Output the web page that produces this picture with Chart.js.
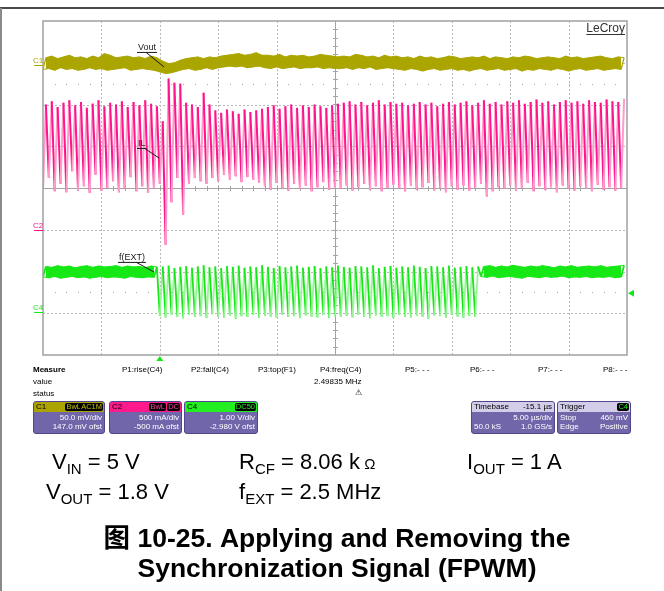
<!DOCTYPE html>
<html><head><meta charset="utf-8">
<script src="https://cdn.jsdelivr.net/npm/chart.js@4.4.1/dist/chart.umd.min.js"></script>
<style>
html,body{margin:0;padding:0;background:#fff;width:664px;height:591px;overflow:hidden;font-family:"Liberation Sans",Arial,sans-serif;}
#wrap{position:relative;width:664px;height:591px;}
#scope{position:absolute;left:0;top:0;}
.t{position:absolute;white-space:nowrap;font-size:8px;line-height:8px;color:#000;}
.box{position:absolute;top:401px;height:31px;border:1px solid #51468c;border-radius:3px;background:#7266ab;overflow:hidden;font-size:8px;line-height:8px;}
.hd{height:10px;position:relative;color:#000;}
.hd .l{position:absolute;left:2px;top:1px;}
.hd .bg{position:absolute;top:1px;height:8px;background:#000;border-radius:2px;padding:0 1px;font-size:7.5px;line-height:8px;}
.bd{position:relative;height:21px;color:#fff;}
.bd .r{position:absolute;right:2px;}
.bd .l{position:absolute;left:2px;}
.cap{position:absolute;white-space:nowrap;font-size:22px;line-height:22px;color:#000;}
.cap .s{font-size:15px;position:relative;top:5px;}
.ttl{position:absolute;left:5px;width:664px;text-align:center;font-weight:bold;font-size:26.5px;line-height:26px;color:#000;font-family:"Liberation Sans","Noto Sans CJK SC",Arial,sans-serif;}
#frameTop{position:absolute;left:0;top:7px;width:664px;height:2px;background:#4a4a4a;}
#frameLeft{position:absolute;left:0;top:8px;width:2px;height:583px;background:#8a8a8a;}
</style></head>
<body><div id="wrap">
<canvas id="scope" width="664" height="591"></canvas>
<div id="frameTop"></div><div id="frameLeft"></div>

<div class="t" style="left:33px;top:366px;font-weight:bold">Measure</div>
<div class="t" style="left:122px;top:366px">P1:rise(C4)</div>
<div class="t" style="left:191px;top:366px">P2:fall(C4)</div>
<div class="t" style="left:258px;top:366px">P3:top(F1)</div>
<div class="t" style="left:320px;top:366px">P4:freq(C4)</div>
<div class="t" style="left:405px;top:366px">P5:- - -</div>
<div class="t" style="left:470px;top:366px">P6:- - -</div>
<div class="t" style="left:538px;top:366px">P7:- - -</div>
<div class="t" style="left:603px;top:366px">P8:- - -</div>
<div class="t" style="left:33px;top:378px">value</div>
<div class="t" style="left:314px;top:378px">2.49835 MHz</div>
<div class="t" style="left:33px;top:390px">status</div>
<div class="t" style="left:355px;top:389px">⚠</div>

<div class="box" style="left:33px;width:70px">
 <div class="hd" style="background:#aaa300"><span class="l">C1</span><span class="bg" style="right:22px;color:#c8c000">BwL</span><span class="bg" style="right:1px;color:#c8c000">AC1M</span></div>
 <div class="bd"><span class="r" style="top:2px">50.0 mV/div</span><span class="r" style="top:11px">147.0 mV ofst</span></div>
</div>
<div class="box" style="left:109px;width:71px">
 <div class="hd" style="background:#ff1a8c"><span class="l">C2</span><span class="bg" style="right:15px;color:#ff3fa0">BwL</span><span class="bg" style="right:1px;color:#ff3fa0">DC</span></div>
 <div class="bd"><span class="r" style="top:2px">500 mA/div</span><span class="r" style="top:11px">-500 mA ofst</span></div>
</div>
<div class="box" style="left:184px;width:72px">
 <div class="hd" style="background:#22ee22"><span class="l">C4</span><span class="bg" style="right:1px;color:#22ee22">DC50</span></div>
 <div class="bd"><span class="r" style="top:2px">1.00 V/div</span><span class="r" style="top:11px">-2.980 V ofst</span></div>
</div>
<div class="box" style="left:471px;width:82px">
 <div class="hd" style="background:#d3cde9"><span class="l">Timebase</span><span class="l" style="left:auto;right:2px">-15.1 µs</span></div>
 <div class="bd"><span class="r" style="top:2px">5.00 µs/div</span><span class="l" style="top:11px">50.0 kS</span><span class="r" style="top:11px">1.0 GS/s</span></div>
</div>
<div class="box" style="left:557px;width:72px">
 <div class="hd" style="background:#d3cde9"><span class="l">Trigger</span><span class="bg" style="right:1px;color:#22ee22">C4</span></div>
 <div class="bd"><span class="l" style="top:2px">Stop</span><span class="r" style="top:2px">460 mV</span><span class="l" style="top:11px">Edge</span><span class="r" style="top:11px">Positive</span></div>
</div>

<div class="cap" style="left:52px;top:451px">V<span class="s">IN</span> = 5 V</div>
<div class="cap" style="left:239px;top:451px">R<span class="s">CF</span> = 8.06 k&thinsp;<span style="font-size:15px">Ω</span></div>
<div class="cap" style="left:467px;top:451px">I<span class="s">OUT</span> = 1 A</div>
<div class="cap" style="left:46px;top:481px">V<span class="s">OUT</span> = 1.8 V</div>
<div class="cap" style="left:239px;top:481px">f<span class="s">EXT</span> = 2.5 MHz</div>
<div class="ttl" style="top:525px">图 10-25. Applying and Removing the</div>
<div class="ttl" style="top:555px">Synchronization Signal (FPWM)</div>
</div>
<script>
// ---- time axis (µs): timebase 5 µs/div, 10 divisions, trigger at 2nd division ----
const timeStartUs = -10;
const timeEndUs = 40;
const displayCycleUs = 0.5; // one displayed low/high pair per 0.5 µs

// ---- channel settings ----
const c1ScaleMvPerDiv = 50,  c1OffsetMv = 147;
const c2ScaleAPerDiv = 0.5,  c2OffsetA = -0.5;
const c4ScaleVPerDiv = 1.0,  c4OffsetV = -2.98;
const triggerLevelV = 0.46;

// ---- C1: Vout ripple (mV, AC coupled), upper / lower excursions per display cycle ----
const voutHigh_mV = [9,11,8,10,12,9,10,8,11,9, 14,12,9,10,11,9,10,8,11,9,
  5,2,3,6,8,9,10,8,10,9, 11,12,13,14,12,13,15,12,12,11,
  13,10,12,11,12,10,11,13,12,11, 10,11,10,13,12,10,11,9,12,10,
  11,9,10,8,11,9,10,8,9,11, 10,8,9,10,9,11,8,10,9,8,
  10,9,11,10,8,9,10,9,8,11, 9,10,8,9,10,11,9,8,10,9];
const voutLow_mV = [-5,-4,-6,-3,-5,-4,-6,-5,-3,-5, -4,-6,-5,-4,-3,-6,-5,-4,-5,-6,
  -8,-10,-9,-7,-5,-4,-6,-5,-3,-5, -3,-2,-1,-2,-1,-3,-2,-1,-3,-4,
  -2,-4,-3,-2,-4,-3,-3,-2,-4,-3, -4,-4,-3,-5,-3,-4,-2,-5,-4,-3,
  -4,-5,-6,-4,-5,-7,-5,-4,-6,-5, -4,-6,-5,-7,-5,-4,-6,-5,-4,-6,
  -5,-4,-7,-5,-6,-4,-5,-6,-4,-5, -7,-5,-4,-6,-5,-4,-6,-5,-4,-5];

// ---- C2: inductor current IL (A), peak / valley per display cycle ----
const iLPeak_A = [1.50,1.54,1.47,1.52,1.55,1.49,1.53,1.46,1.51,1.55,
  1.48,1.52,1.50,1.54,1.47,1.53,1.49,1.55,1.51,1.48,
  1.30,1.81,1.76,1.75,1.52,1.50,1.47,1.64,1.50,1.43,
  1.40,1.44,1.42,1.39,1.44,1.41,1.43,1.45,1.47,1.49,
  1.45,1.48,1.50,1.46,1.49,1.47,1.50,1.48,1.46,1.49,
  1.51,1.52,1.54,1.50,1.53,1.49,1.52,1.55,1.50,1.53,
  1.51,1.52,1.49,1.51,1.53,1.50,1.52,1.48,1.51,1.53,
  1.50,1.52,1.54,1.49,1.52,1.55,1.51,1.53,1.50,1.54,
  1.52,1.55,1.51,1.53,1.56,1.52,1.54,1.50,1.53,1.55,
  1.52,1.54,1.51,1.55,1.53,1.52,1.56,1.54,1.53,1.57];
const iLValley_A = [0.48,0.62,0.46,0.55,0.45,0.70,0.47,0.52,0.44,0.66,
  0.47,0.50,0.58,0.45,0.49,0.63,0.46,0.52,0.44,0.50,
  0.55,-0.18,0.33,0.62,0.18,0.55,0.62,0.58,0.55,0.62,
  0.58,0.66,0.60,0.64,0.57,0.63,0.60,0.56,0.52,0.48,
  0.56,0.50,0.47,0.55,0.49,0.53,0.46,0.51,0.57,0.48,
  0.50,0.49,0.53,0.47,0.51,0.55,0.48,0.52,0.46,0.50,
  0.54,0.50,0.46,0.53,0.48,0.51,0.56,0.47,0.50,0.45,
  0.52,0.48,0.53,0.47,0.50,0.55,0.40,0.46,0.51,0.49,
  0.53,0.47,0.50,0.56,0.46,0.52,0.48,0.51,0.45,0.53,
  0.49,0.47,0.52,0.50,0.46,0.54,0.48,0.51,0.47,0.50];

// ---- C4: f(EXT) sync input (V), high / low per display cycle ----
const fextHigh_V = [1.10,1.08,1.12,1.09,1.11,1.07,1.10,1.12,1.08,1.11,
  1.09,1.10,1.12,1.08,1.11,1.09,1.10,1.07,1.11,1.09,
  1.10,1.12,1.06,1.09,1.11,1.07,1.10,1.13,1.08,1.10,
  1.06,1.11,1.09,1.12,1.07,1.10,1.08,1.13,1.09,1.06,
  1.11,1.08,1.10,1.12,1.07,1.09,1.11,1.06,1.10,1.08,
  1.12,1.09,1.07,1.11,1.10,1.08,1.13,1.06,1.09,1.11,
  1.07,1.10,1.08,1.12,1.09,1.06,1.11,1.10,1.08,1.12,
  1.07,1.09,1.11,1.08,1.10,1.10,1.12,1.08,1.11,1.09,
  1.13,1.10,1.08,1.11,1.09,1.12,1.10,1.07,1.11,1.09,
  1.12,1.08,1.10,1.11,1.09,1.12,1.08,1.10,1.11,1.13];
const fextLow_V = [0.85,0.83,0.86,0.82,0.84,0.86,0.83,0.85,0.82,0.84,
  0.86,0.83,0.85,0.84,0.82,0.86,0.84,0.83,0.85,0.84,
  -0.08,-0.12,-0.05,-0.10,-0.14,-0.06,-0.11,-0.09,-0.13,-0.04,
  -0.10,-0.12,-0.07,-0.15,-0.09,-0.11,-0.06,-0.13,-0.08,-0.10,
  -0.12,-0.05,-0.11,-0.09,-0.14,-0.07,-0.10,-0.12,-0.06,-0.13,
  -0.09,-0.11,-0.08,-0.12,-0.05,-0.10,-0.14,-0.07,-0.11,-0.09,
  -0.13,-0.06,-0.10,-0.12,-0.08,-0.11,-0.15,-0.07,-0.09,-0.12,
  -0.06,-0.10,-0.13,-0.08,-0.11,0.86,0.84,0.87,0.83,0.85,
  0.86,0.84,0.82,0.86,0.85,0.83,0.86,0.84,0.85,0.87,
  0.83,0.85,0.84,0.86,0.83,0.85,0.84,0.86,0.83,0.85];

// ---- annotation anchors (time µs, channel value) ----
const voutTag = {t: 0.36, v: -2};
const iLTag = {t: -0.07, v: 0.86};
const fextTag = {t: -0.5, v: 0.97};

// ---- conversion: channel units -> screen divisions ----
const c1Div = v => (v + c1OffsetMv) / c1ScaleMvPerDiv;
const c2Div = v => (v + c2OffsetA) / c2ScaleAPerDiv;
const c4Div = v => (v + c4OffsetV) / c4ScaleVPerDiv;

function buildTrace(lows, highs, toDiv) {
  const pts = [];
  for (let i = 0; i < lows.length; i++) {
    const t0 = timeStartUs + i * displayCycleUs;
    pts.push({x: t0, y: toDiv(lows[i])});
    pts.push({x: t0 + displayCycleUs / 2, y: toDiv(highs[i])});
  }
  return pts;
}
// envelope of the noise band (null where the trace is switching)
function buildEdge(vals, keep, toDiv, shift) {
  return vals.map((v, i) => ({x: timeStartUs + i * displayCycleUs + shift, y: keep(i) ? toDiv(v) : null}));
}

const YELLOW = '#aba500', PINK = '#ff148c', PINK_L = '#ff9ccb', GREEN = '#16e816', GREEN_L = '#98f598';
const fextIdle = i => fextLow_V[i] > 0.5;
const always = () => true;

const scopePlugin = {
  id: 'scope',
  beforeDatasetsDraw(chart) {
    const {ctx, chartArea: a, scales: {x, y}} = chart;
    ctx.save();
    ctx.lineWidth = 1;
    ctx.strokeStyle = '#b9b9b9';
    ctx.setLineDash([2, 2]);
    for (let d = 1; d < 10; d++) {
      if (d === 5) continue;
      const px = Math.round(x.getPixelForValue(timeStartUs + d * 5)) + 0.5;
      ctx.beginPath(); ctx.moveTo(px, a.top); ctx.lineTo(px, a.bottom); ctx.stroke();
    }
    for (let d = -3; d <= 3; d++) {
      if (d === 0) continue;
      const py = Math.round(y.getPixelForValue(d)) + 0.5;
      ctx.beginPath(); ctx.moveTo(a.left, py); ctx.lineTo(a.right, py); ctx.stroke();
    }
    ctx.setLineDash([]);
    ctx.fillStyle = '#a8a8a8';
    for (const d of [2.5, -2.5]) {
      const py = Math.round(y.getPixelForValue(d));
      for (let t = timeStartUs + 1; t < timeEndUs; t += 1) {
        ctx.fillRect(Math.round(x.getPixelForValue(t)), py, 1, 1);
      }
    }
    ctx.strokeStyle = '#a4a4a4';
    const cx = Math.round(x.getPixelForValue(15)) + 0.5;
    const cy = Math.round(y.getPixelForValue(0)) + 0.5;
    ctx.beginPath(); ctx.moveTo(cx, a.top); ctx.lineTo(cx, a.bottom); ctx.stroke();
    ctx.beginPath(); ctx.moveTo(a.left, cy); ctx.lineTo(a.right, cy); ctx.stroke();
    ctx.beginPath();
    for (let t = timeStartUs + 1; t < timeEndUs; t += 1) {
      const px = Math.round(x.getPixelForValue(t)) + 0.5;
      ctx.moveTo(px, cy - 2.5); ctx.lineTo(px, cy + 2.5);
    }
    for (let d = -3.8; d < 4; d += 0.2) {
      const py = Math.round(y.getPixelForValue(d)) + 0.5;
      ctx.moveTo(cx - 2.5, py); ctx.lineTo(cx + 2.5, py);
    }
    ctx.stroke();
    ctx.restore();
  },
  afterDatasetsDraw(chart) {
    const {ctx, chartArea: a, scales: {x, y}} = chart;
    ctx.save();
    ctx.strokeStyle = '#a0a0a0'; ctx.lineWidth = 1.5;
    ctx.strokeRect(a.left, a.top, a.right - a.left, a.bottom - a.top);
    ctx.font = '8px "Liberation Sans", Arial';
    ctx.lineWidth = 1;
    const marks = [['C1', c1Div(0), YELLOW], ['C2', c2Div(0), PINK], ['C4', c4Div(0), GREEN]];
    for (const [lab, d, col] of marks) {
      const py = Math.round(y.getPixelForValue(d)) + 0.5;
      ctx.fillStyle = col; ctx.strokeStyle = col;
      ctx.fillText(lab, a.left - 10, py - 3);
      ctx.beginPath(); ctx.moveTo(a.left - 9, py); ctx.lineTo(a.left, py); ctx.stroke();
    }
    ctx.fillStyle = GREEN;
    const tx = x.getPixelForValue(0);
    ctx.beginPath(); ctx.moveTo(tx, a.bottom + 1); ctx.lineTo(tx - 3.5, a.bottom + 6); ctx.lineTo(tx + 3.5, a.bottom + 6); ctx.closePath(); ctx.fill();
    const ty = y.getPixelForValue(c4Div(triggerLevelV));
    ctx.beginPath(); ctx.moveTo(a.right + 1, ty); ctx.lineTo(a.right + 7, ty - 3.5); ctx.lineTo(a.right + 7, ty + 3.5); ctx.closePath(); ctx.fill();
    const tag = (text, t, d, dx, dy, frac) => {
      const px = x.getPixelForValue(t), py = y.getPixelForValue(d);
      ctx.font = '9px "Liberation Sans", Arial';
      const w = ctx.measureText(text).width;
      const lx = px + dx, ly = py + dy;
      ctx.fillStyle = '#1a1a1a'; ctx.strokeStyle = '#1a1a1a'; ctx.lineWidth = 1;
      ctx.fillText(text, lx, ly);
      ctx.beginPath(); ctx.moveTo(lx - 1, ly + 2.5); ctx.lineTo(lx + w + 1, ly + 2.5); ctx.stroke();
      ctx.beginPath(); ctx.moveTo(lx + w * frac, ly + 2.5); ctx.lineTo(px, py); ctx.stroke();
    };
    tag('Vout', voutTag.t, c1Div(voutTag.v), -26, -17, 0.45);
    tag('IL', iLTag.t, c2Div(iLTag.v), -21, -12, 0.9);
    tag('f(EXT)', fextTag.t, c4Div(fextTag.v), -35, -12, 0.67);
    ctx.font = '12px "Liberation Sans", Arial';
    ctx.fillStyle = '#333'; ctx.strokeStyle = '#333';
    const bw = ctx.measureText('LeCroy').width;
    ctx.fillText('LeCroy', a.right - 2 - bw, a.top + 11);
    ctx.beginPath(); ctx.moveTo(a.right - 2 - bw, a.top + 13.5); ctx.lineTo(a.right - 2, a.top + 13.5); ctx.stroke();
    ctx.restore();
  }
};

const bigSwing = (ctx, lim) => Math.abs(ctx.p1.parsed.y - ctx.p0.parsed.y) > lim;
const edgeStyle = col => ({borderColor: col, backgroundColor: col, borderWidth: 1, spanGaps: false});

new Chart(document.getElementById('scope'), {
  type: 'line',
  data: {
    datasets: [
      Object.assign({label: 'C4 band top', data: buildEdge(fextHigh_V, fextIdle, c4Div, displayCycleUs / 2), fill: false}, edgeStyle(GREEN)),
      Object.assign({label: 'C4 band bottom', data: buildEdge(fextLow_V, fextIdle, c4Div, 0), fill: '-1'}, edgeStyle(GREEN)),
      {label: 'C4 f(EXT)', data: buildTrace(fextLow_V, fextHigh_V, c4Div), borderColor: GREEN, borderWidth: 1.8,
        segment: {borderColor: c => (bigSwing(c, 0.5) && c.p0DataIndex % 2 === 0) ? GREEN_L : GREEN}},
      {label: 'C2 IL', data: buildTrace(iLValley_A, iLPeak_A, c2Div), borderColor: PINK, borderWidth: 2,
        segment: {borderColor: c => c.p0DataIndex % 2 === 0 ? PINK_L : PINK}},
      Object.assign({label: 'C1 band top', data: buildEdge(voutHigh_mV, always, c1Div, displayCycleUs / 2), fill: false}, edgeStyle(YELLOW)),
      Object.assign({label: 'C1 band bottom', data: buildEdge(voutLow_mV, always, c1Div, 0), fill: '-1'}, edgeStyle(YELLOW)),
      {label: 'C1 Vout', data: buildTrace(voutLow_mV, voutHigh_mV, c1Div), borderColor: YELLOW, borderWidth: 1.2}
    ]
  },
  options: {
    responsive: false, animation: false, events: [],
    layout: {padding: {left: 43, top: 21, right: 37, bottom: 236}},
    scales: {
      x: {type: 'linear', min: timeStartUs, max: timeEndUs, display: false},
      y: {type: 'linear', min: -4, max: 4, display: false}
    },
    elements: {point: {radius: 0}, line: {tension: 0, borderJoinStyle: 'bevel'}},
    plugins: {legend: {display: false}, tooltip: {enabled: false}, filler: {propagate: false}}
  },
  plugins: [scopePlugin]
});
</script>
</body></html>
